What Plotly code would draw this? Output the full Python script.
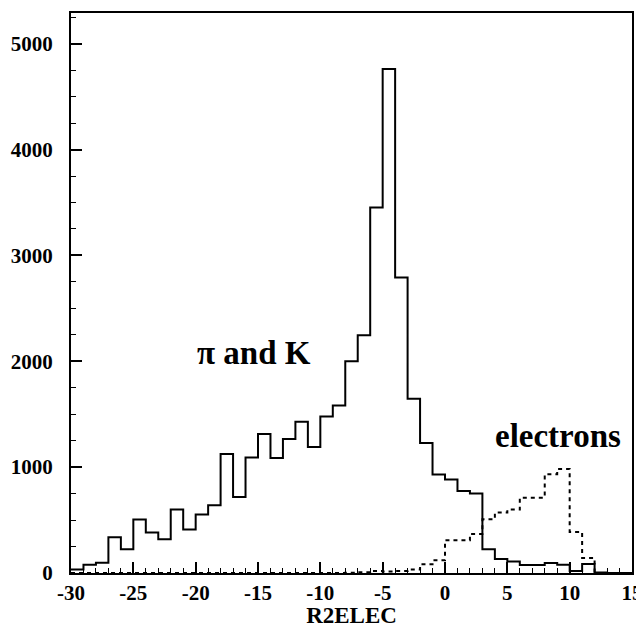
import plotly.graph_objects as go

# bin left edges (width 1) from -30 to 14
bin_edges = list(range(-30, 16))

pik_counts = [32, 79, 98, 337, 224, 505, 382, 318, 599, 410,
              552, 640, 1125, 719, 1091, 1314, 1087, 1267, 1428, 1191,
              1478, 1582, 2001, 2245, 3453, 4761, 2792, 1645, 1229, 930,
              883, 775, 750, 224, 132, 108, 76, 76, 95, 79,
              19, 85, 5, 0, 0]

electron_counts = [0, 0, 0, 0, 0, 0, 0, 0, 0, 0,
                   0, 0, 0, 0, 0, 0, 0, 0, 0, 0,
                   0, 0, 2, 6, 19, 15, 19, 32, 82, 120,
                   309, 309, 369, 507, 571, 599, 712, 712, 933, 983,
                   388, 142, 0, 0, 0]

x_tick_vals = [-30, -25, -20, -15, -10, -5, 0, 5, 10, 15]
y_tick_vals = [0, 1000, 2000, 3000, 4000, 5000]

FONT = "Liberation Serif"

fig = go.Figure()
fig.add_trace(go.Scatter(
    x=bin_edges, y=pik_counts + [pik_counts[-1]],
    mode="lines", line=dict(color="black", width=2, shape="hv"),
    showlegend=False, hoverinfo="skip"))
fig.add_trace(go.Scatter(
    x=bin_edges, y=electron_counts + [electron_counts[-1]],
    mode="lines", line=dict(color="black", width=2, shape="hv", dash="4px,4px"),
    showlegend=False, hoverinfo="skip"))

fig.add_annotation(x=-15.3, y=2080, text="π and K", showarrow=False,
                   font=dict(family=FONT, size=33, color="black", weight="bold"))
fig.add_annotation(x=9.1, y=1290, text="electrons", showarrow=False,
                   font=dict(family=FONT, size=33, color="black", weight="bold"))

axis_common = dict(
    showline=True, linecolor="black", linewidth=2, mirror=True,
    showgrid=False, zeroline=False, automargin=False,
    ticks="inside", ticklen=11, tickwidth=1.5, tickcolor="black",
    tickfont=dict(family=FONT, size=21, color="black", weight="bold"),
)

fig.update_xaxes(range=[-30, 15], tickvals=x_tick_vals,
                 ticktext=[str(v) for v in x_tick_vals],
                 minor=dict(ticks="inside", ticklen=5, dtick=1, tick0=0,
                            tickcolor="black", tickwidth=1),
                 title=dict(text="R2ELEC", standoff=10,
                            font=dict(family=FONT, size=23, color="black", weight="bold")),
                 ticklabelstandoff=0,
                 **axis_common)
fig.update_yaxes(range=[0, 5290], tickvals=y_tick_vals,
                 ticktext=[str(v) for v in y_tick_vals],
                 minor=dict(ticks="inside", ticklen=5, dtick=250, tick0=0,
                            tickcolor="black", tickwidth=1),
                 ticklabelstandoff=12,
                 **axis_common)

# page body adds an 8px offset; figure sized so the plot box lands at x 71..632, y 13..573
fig.update_layout(width=636, height=620,
                  margin=dict(l=63, r=12, t=5, b=55),
                  plot_bgcolor="white", paper_bgcolor="white")

fig.write_html("out.html")
